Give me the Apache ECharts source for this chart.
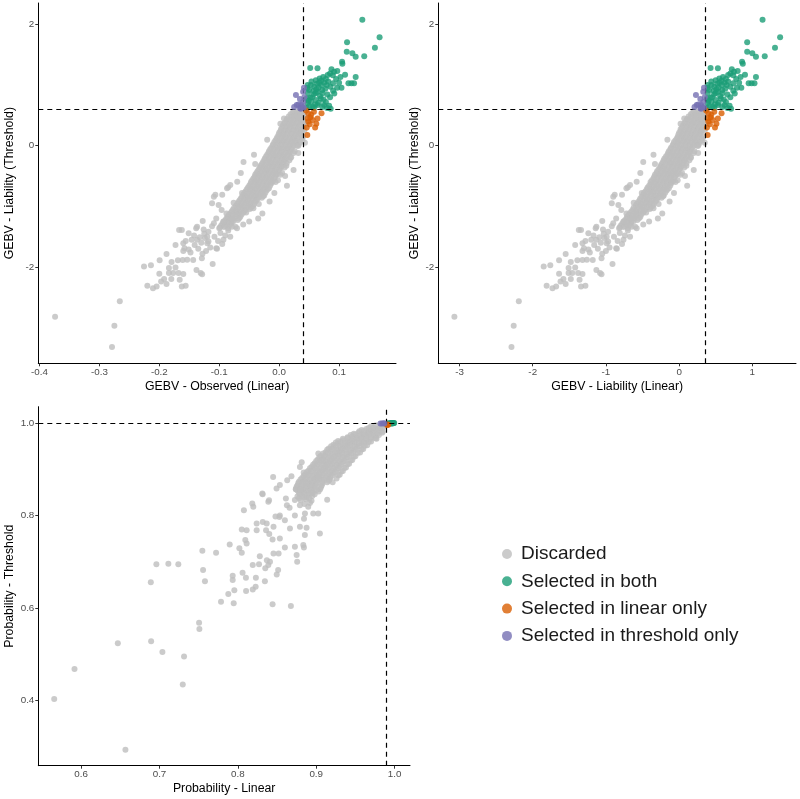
<!DOCTYPE html>
<html><head><meta charset="utf-8">
<script src="https://cdn.jsdelivr.net/npm/echarts@6/dist/echarts.min.js"></script>
<style>html,body{margin:0;padding:0;background:#fff}#c{width:800px;height:799px}</style>
</head><body><div id="c"></div>
<script>
// ---- Top panels: [GEBV observed (linear), GEBV liability (linear), GEBV liability (threshold)] ----
const grayCoreTop = [
[0.024,0.20,0.57],[0.030,0.25,0.555],[0.036,0.30,0.585],[0.041,0.34,0.565],
[0.019,0.16,0.52],[0.025,0.21,0.50],[0.031,0.25,0.515],[0.037,0.30,0.495],[0.042,0.35,0.52],
[0.013,0.11,0.44],[0.020,0.16,0.46],[0.027,0.22,0.445],[0.033,0.27,0.455],[0.039,0.32,0.435],
[0.010,0.08,0.38],[0.017,0.14,0.395],[0.023,0.19,0.375],[0.030,0.25,0.40],[0.036,0.30,0.385],[0.042,0.35,0.39],
[0.006,0.05,0.335],[0.013,0.11,0.32],[0.020,0.16,0.34],[0.027,0.22,0.325],[0.034,0.28,0.335],[0.041,0.34,0.32],
[0.003,0.02,0.27],[0.010,0.08,0.26],[0.017,0.14,0.28],[0.024,0.20,0.265],[0.031,0.25,0.275],[0.038,0.31,0.26],
[0.000,0.00,0.215],[0.007,0.06,0.20],[0.014,0.12,0.22],[0.021,0.17,0.205],[0.028,0.23,0.215],[0.035,0.29,0.20],
[-0.003,-0.02,0.145],[0.004,0.03,0.16],[0.011,0.09,0.14],[0.018,0.15,0.155],[0.025,0.21,0.14],[0.032,0.26,0.16],[0.040,0.33,0.15],
[-0.006,-0.05,0.09],[0.001,0.01,0.08],[0.008,0.07,0.10],[0.015,0.12,0.085],[0.022,0.18,0.095],[0.029,0.24,0.08],
[-0.010,-0.08,0.025],[-0.003,-0.02,0.04],[0.004,0.03,0.02],[0.011,0.09,0.035],[0.018,0.15,0.02],[0.025,0.21,0.04],[0.033,0.27,0.03],
[-0.013,-0.11,-0.035],[-0.006,-0.05,-0.02],[0.001,0.01,-0.04],[0.008,0.07,-0.025],[0.015,0.12,-0.04],[0.022,0.18,-0.025],
[-0.017,-0.14,-0.09],[-0.010,-0.08,-0.10],[-0.003,-0.02,-0.08],[0.004,0.03,-0.095],[0.011,0.09,-0.085],[0.018,0.15,-0.10],[0.026,0.21,-0.09],
[-0.020,-0.16,-0.15],[-0.013,-0.11,-0.14],[-0.006,-0.05,-0.16],[0.001,0.01,-0.145],[0.008,0.07,-0.155],[0.015,0.12,-0.14],
[-0.024,-0.20,-0.21],[-0.017,-0.14,-0.22],[-0.010,-0.08,-0.20],[-0.003,-0.02,-0.215],[0.004,0.03,-0.205],[0.011,0.09,-0.22],[0.019,0.16,-0.20],
[-0.027,-0.22,-0.27],[-0.020,-0.16,-0.26],[-0.013,-0.11,-0.28],[-0.006,-0.05,-0.265],[0.001,0.01,-0.275],[0.008,0.07,-0.26],
[-0.031,-0.25,-0.33],[-0.024,-0.20,-0.34],[-0.017,-0.14,-0.32],[-0.010,-0.08,-0.335],[-0.003,-0.02,-0.325],[0.004,0.03,-0.34],[0.012,0.10,-0.33],
[-0.034,-0.28,-0.39],[-0.027,-0.22,-0.38],[-0.020,-0.16,-0.40],[-0.013,-0.11,-0.385],[-0.006,-0.05,-0.395],[0.001,0.01,-0.38],
[-0.038,-0.31,-0.45],[-0.031,-0.25,-0.46],[-0.024,-0.20,-0.44],[-0.017,-0.14,-0.455],[-0.010,-0.08,-0.445],[-0.003,-0.02,-0.46],[0.005,0.04,-0.45],
[-0.041,-0.34,-0.51],[-0.034,-0.28,-0.50],[-0.027,-0.22,-0.52],[-0.020,-0.16,-0.505],[-0.013,-0.11,-0.515],[-0.006,-0.05,-0.50],
[-0.045,-0.37,-0.57],[-0.038,-0.31,-0.58],[-0.031,-0.25,-0.56],[-0.024,-0.20,-0.575],[-0.017,-0.14,-0.565],[-0.010,-0.08,-0.58],[-0.002,-0.02,-0.57],
[-0.048,-0.39,-0.63],[-0.041,-0.34,-0.62],[-0.034,-0.28,-0.64],[-0.027,-0.22,-0.625],[-0.020,-0.16,-0.635],[-0.013,-0.11,-0.62],
[-0.052,-0.43,-0.69],[-0.045,-0.37,-0.70],[-0.038,-0.31,-0.68],[-0.031,-0.25,-0.695],[-0.024,-0.20,-0.685],[-0.017,-0.14,-0.70],
[-0.056,-0.46,-0.75],[-0.049,-0.40,-0.74],[-0.042,-0.35,-0.76],[-0.035,-0.29,-0.745],[-0.028,-0.23,-0.755],[-0.021,-0.17,-0.74],
[-0.060,-0.49,-0.81],[-0.053,-0.44,-0.82],[-0.046,-0.38,-0.80],[-0.039,-0.32,-0.815],[-0.032,-0.26,-0.805],[-0.025,-0.21,-0.82],
[-0.064,-0.53,-0.87],[-0.057,-0.47,-0.86],[-0.050,-0.41,-0.88],[-0.043,-0.35,-0.865],[-0.036,-0.30,-0.875],[-0.029,-0.24,-0.86],
[-0.068,-0.56,-0.93],[-0.061,-0.50,-0.94],[-0.054,-0.44,-0.92],[-0.047,-0.39,-0.935],[-0.040,-0.33,-0.925],
[-0.072,-0.59,-0.99],[-0.065,-0.53,-0.98],[-0.058,-0.48,-1.00],[-0.051,-0.42,-0.985],[-0.044,-0.36,-0.995],
[-0.077,-0.63,-1.05],[-0.070,-0.58,-1.06],[-0.063,-0.52,-1.04],[-0.056,-0.46,-1.055],[-0.049,-0.40,-1.045],
[-0.081,-0.67,-1.11],[-0.074,-0.61,-1.10],[-0.067,-0.55,-1.12],[-0.060,-0.49,-1.105],
[-0.086,-0.71,-1.17],[-0.079,-0.65,-1.18],[-0.072,-0.59,-1.16],[-0.065,-0.53,-1.175],
[-0.090,-0.74,-1.23],[-0.083,-0.68,-1.22],[-0.076,-0.62,-1.24],[-0.069,-0.57,-1.225],
[-0.095,-0.78,-1.29],[-0.088,-0.72,-1.30],[-0.080,-0.66,-1.28],
[-0.099,-0.81,-1.35],[-0.092,-0.76,-1.34],[-0.085,-0.70,-1.36]
];
const grayCoreTop2 = [
[0.022,0.18,0.54],[0.028,0.23,0.535],[0.034,0.28,0.545],[0.040,0.33,0.54],
[0.016,0.13,0.48],[0.023,0.19,0.475],[0.029,0.24,0.485],[0.035,0.29,0.48],[0.041,0.34,0.475],
[0.012,0.10,0.42],[0.019,0.16,0.415],[0.025,0.21,0.425],[0.032,0.26,0.42],[0.038,0.31,0.41],
[0.008,0.07,0.36],[0.015,0.12,0.355],[0.022,0.18,0.365],[0.029,0.24,0.36],[0.035,0.29,0.355],[0.041,0.34,0.365],
[0.005,0.04,0.30],[0.012,0.10,0.295],[0.019,0.16,0.305],[0.026,0.21,0.30],[0.033,0.27,0.295],[0.040,0.33,0.305],
[0.002,0.02,0.24],[0.009,0.07,0.235],[0.016,0.13,0.245],[0.023,0.19,0.24],[0.030,0.25,0.235],[0.037,0.30,0.245],
[-0.001,-0.01,0.18],[0.006,0.05,0.175],[0.013,0.11,0.185],[0.020,0.16,0.18],[0.027,0.22,0.175],[0.034,0.28,0.185],
[-0.004,-0.03,0.12],[0.003,0.02,0.115],[0.010,0.08,0.125],[0.017,0.14,0.12],[0.024,0.20,0.115],[0.031,0.25,0.125],[0.038,0.31,0.12],
[-0.008,-0.07,0.06],[-0.001,-0.01,0.055],[0.006,0.05,0.065],[0.013,0.11,0.06],[0.020,0.16,0.055],[0.027,0.22,0.065],[0.034,0.28,0.06],
[-0.011,-0.09,0.00],[-0.004,-0.03,-0.005],[0.003,0.02,0.005],[0.010,0.08,0.00],[0.017,0.14,-0.005],[0.024,0.20,0.005],[0.030,0.25,0.00],
[-0.015,-0.12,-0.06],[-0.008,-0.07,-0.065],[-0.001,-0.01,-0.055],[0.006,0.05,-0.06],[0.013,0.11,-0.065],[0.020,0.16,-0.055],
[-0.018,-0.15,-0.12],[-0.011,-0.09,-0.125],[-0.004,-0.03,-0.115],[0.003,0.02,-0.12],[0.010,0.08,-0.125],[0.017,0.14,-0.115],[0.024,0.20,-0.12],
[-0.022,-0.18,-0.18],[-0.015,-0.12,-0.185],[-0.008,-0.07,-0.175],[-0.001,-0.01,-0.18],[0.006,0.05,-0.185],[0.013,0.11,-0.175],
[-0.025,-0.21,-0.24],[-0.018,-0.15,-0.245],[-0.011,-0.09,-0.235],[-0.004,-0.03,-0.24],[0.003,0.02,-0.245],[0.010,0.08,-0.235],[0.017,0.14,-0.24],
[-0.029,-0.24,-0.30],[-0.022,-0.18,-0.305],[-0.015,-0.12,-0.295],[-0.008,-0.07,-0.30],[-0.001,-0.01,-0.305],[0.006,0.05,-0.295],
[-0.032,-0.26,-0.36],[-0.025,-0.21,-0.365],[-0.018,-0.15,-0.355],[-0.011,-0.09,-0.36],[-0.004,-0.03,-0.365],[0.003,0.02,-0.355],[0.009,0.07,-0.36],
[-0.036,-0.30,-0.42],[-0.029,-0.24,-0.425],[-0.022,-0.18,-0.415],[-0.015,-0.12,-0.42],[-0.008,-0.07,-0.425],[-0.001,-0.01,-0.415],
[-0.040,-0.33,-0.48],[-0.033,-0.27,-0.485],[-0.026,-0.21,-0.475],[-0.019,-0.16,-0.48],[-0.012,-0.10,-0.485],[-0.005,-0.04,-0.475],[0.002,0.02,-0.48],
[-0.043,-0.35,-0.54],[-0.036,-0.30,-0.545],[-0.029,-0.24,-0.535],[-0.022,-0.18,-0.54],[-0.015,-0.12,-0.545],[-0.008,-0.07,-0.535],
[-0.047,-0.39,-0.60],[-0.040,-0.33,-0.605],[-0.033,-0.27,-0.595],[-0.026,-0.21,-0.60],[-0.019,-0.16,-0.605],[-0.012,-0.10,-0.595],[-0.006,-0.05,-0.60],
[-0.050,-0.41,-0.66],[-0.043,-0.35,-0.665],[-0.036,-0.30,-0.655],[-0.029,-0.24,-0.66],[-0.022,-0.18,-0.665],[-0.015,-0.12,-0.655],
[-0.054,-0.44,-0.72],[-0.047,-0.39,-0.725],[-0.040,-0.33,-0.715],[-0.033,-0.27,-0.72],[-0.026,-0.21,-0.725],[-0.019,-0.16,-0.715],
[-0.058,-0.48,-0.78],[-0.051,-0.42,-0.785],[-0.044,-0.36,-0.775],[-0.037,-0.30,-0.78],[-0.030,-0.25,-0.785],[-0.023,-0.19,-0.775],
[-0.062,-0.51,-0.84],[-0.055,-0.45,-0.845],[-0.048,-0.39,-0.835],[-0.041,-0.34,-0.84],[-0.034,-0.28,-0.845],[-0.027,-0.22,-0.835],
[-0.066,-0.54,-0.90],[-0.059,-0.48,-0.905],[-0.052,-0.43,-0.895],[-0.045,-0.37,-0.90],[-0.038,-0.31,-0.905],
[-0.070,-0.58,-0.96],[-0.063,-0.52,-0.965],[-0.056,-0.46,-0.955],[-0.049,-0.40,-0.96],[-0.042,-0.35,-0.965],
[-0.075,-0.62,-1.02],[-0.068,-0.56,-1.025],[-0.061,-0.50,-1.015],[-0.054,-0.44,-1.02],[-0.047,-0.39,-1.025],
[-0.079,-0.65,-1.08],[-0.072,-0.59,-1.085],[-0.065,-0.53,-1.075],[-0.058,-0.48,-1.08],
[-0.084,-0.69,-1.14],[-0.077,-0.63,-1.145],[-0.070,-0.58,-1.135],[-0.063,-0.52,-1.14],
[-0.088,-0.72,-1.20],[-0.081,-0.67,-1.205],[-0.074,-0.61,-1.195],[-0.067,-0.55,-1.20],
[-0.093,-0.76,-1.26],[-0.086,-0.71,-1.265],[-0.079,-0.65,-1.255],
[-0.097,-0.80,-1.32],[-0.090,-0.74,-1.325],[-0.083,-0.68,-1.315]
];
const grayTailTop = [
[-0.374,-3.07,-2.82],[-0.266,-2.19,-2.565],[-0.275,-2.26,-2.97],[-0.279,-2.29,-3.32],
[-0.2256,-1.85,-1.99],[-0.214,-1.76,-1.97],[-0.1995,-1.64,-1.89],[-0.188,-1.55,-1.785],
[-0.22,-1.81,-2.31],[-0.2106,-1.73,-2.35],[-0.2045,-1.68,-2.32],[-0.197,-1.62,-2.24],
[-0.192,-1.58,-2.20],[-0.188,-1.55,-2.28],[-0.180,-1.48,-2.20],[-0.200,-1.64,-2.11],
[-0.184,-1.51,-2.016],[-0.184,-1.51,-2.10],[-0.177,-1.46,-2.10],[-0.173,-1.42,-2.01],
[-0.168,-1.38,-2.10],[-0.166,-1.36,-2.21],[-0.1625,-1.34,-2.32],[-0.156,-1.28,-2.31],
[-0.160,-1.32,-2.115],[-0.1796,-1.48,-1.917],[-0.173,-1.42,-1.637],[-0.169,-1.39,-1.89],
[-0.161,-1.32,-1.884],[-0.1535,-1.26,-1.88],[-0.1435,-1.18,-1.884],[-0.138,-1.13,-2.05],
[-0.1286,-1.06,-2.12],[-0.129,-1.06,-1.856],[-0.160,-1.32,-1.736],[-0.158,-1.30,-1.69],
[-0.151,-1.24,-1.71],[-0.160,-1.32,-1.61],[-0.156,-1.28,-1.57],[-0.151,-1.24,-1.444],
[-0.167,-1.37,-1.39],[-0.1625,-1.34,-1.39],[-0.148,-1.22,-1.76],[-0.141,-1.16,-1.637],
[-0.137,-1.13,-1.55],[-0.1385,-1.14,-1.36],[-0.1276,-1.05,-1.24],[-0.1326,-1.09,-1.51],
[-0.124,-1.02,-1.52],[-0.120,-0.99,-1.61],[-0.122,-1.00,-1.736],[-0.118,-0.97,-1.58],
[-0.111,-0.91,-1.95],[-0.105,-0.86,-1.69],[-0.112,-0.92,-0.95],[-0.1065,-0.88,-0.81],
[-0.095,-0.78,-0.81],[-0.085,-0.70,-0.686],[-0.109,-0.90,-1.28],[-0.100,-0.82,-1.36],
[-0.098,-0.81,-1.44],[-0.0788,-0.65,-1.335],[-0.0704,-0.58,-1.36],[-0.0595,-0.49,-0.27],
[-0.087,-0.72,-0.70],[-0.101,-0.83,-0.977],[-0.043,-0.35,-1.03],[-0.073,-0.60,-1.335],
[-0.137,-1.13,-1.335],[-0.126,-1.04,-1.38],[-0.120,-0.99,-1.50],[0.0126,0.10,-0.29],
[-0.070,-0.58,-0.593],[-0.109,-0.90,-0.84],[-0.0816,-0.67,-0.648],[-0.0816,-0.67,-1.50],
[-0.093,-0.76,-1.55],[-0.1037,-0.85,-1.70],[-0.131,-1.08,-2.10],
[-0.118,-0.97,-1.42],[-0.108,-0.89,-1.50],[-0.102,-0.84,-1.57],[-0.090,-0.74,-1.48],
[-0.085,-0.70,-1.40],[-0.112,-0.92,-1.33],[-0.125,-1.03,-1.45],[-0.130,-1.07,-1.60],
[-0.095,-0.78,-1.62],[-0.142,-1.17,-1.48],[-0.146,-1.20,-1.55],[-0.115,-0.95,-1.68],
[-0.135,-1.11,-1.70],[-0.128,-1.05,-1.78],[-0.093,-0.76,-1.25],[-0.078,-0.64,-1.21],
[-0.055,-0.45,-1.10],[-0.088,-0.72,-1.12]
];
const grayEdgeTop = [
[0.010,0.08,-0.50],[0.020,0.16,-0.19],[0.032,0.26,0.00],[0.039,0.32,0.09],
[-0.020,-0.16,0.10],[-0.040,-0.33,-0.30],[-0.062,-0.51,-0.78],[-0.008,-0.07,-0.78],
[-0.016,-0.13,-0.92],[0.002,0.02,0.36],[0.013,0.11,-0.66],[0.024,0.20,-0.40],
[0.032,0.26,-0.12],[-0.042,-0.35,-0.15],[-0.064,-0.53,-0.45],[0.038,0.31,0.24],
[-0.034,-0.28,-0.96],[-0.076,-0.62,-0.94],[-0.028,-0.23,-1.12],[-0.096,-0.79,-1.06],
[-0.035,-0.29,-1.20],[-0.050,-0.41,-1.25],[-0.060,-0.49,-1.30],[-0.105,-0.86,-1.20],
[0.008,0.07,0.45],[0.043,0.35,0.05],[0.042,0.35,0.25]
];
const bothTop = [
[0.1388,1.14,2.077],[0.1676,1.38,1.787],[0.1598,1.31,1.615],[0.1133,0.93,1.704],[0.1128,0.93,1.55],
[0.1222,1.00,1.523],[0.1277,1.05,1.467],[0.142,1.17,1.473],[0.105,0.86,1.385],[0.1055,0.87,1.352],
[0.0518,0.43,1.281],[0.064,0.53,1.276],[0.0873,0.72,1.259],[0.0917,0.75,1.22],[0.085,0.70,1.19],
[0.081,0.67,1.166],[0.0735,0.60,1.132],[0.0675,0.55,1.11],[0.0895,0.74,1.16],[0.1023,0.84,1.132],
[0.1277,1.05,1.132],[0.1156,0.95,1.028],[0.1206,0.99,1.028],[0.125,1.03,1.028],[0.104,0.85,0.956],
[0.0967,0.79,0.956],[0.090,0.74,0.907],[0.0856,0.70,0.973],[0.0794,0.65,1.0],[0.075,0.62,1.04],
[0.0667,0.55,1.04],[0.0612,0.50,1.08],[0.0585,0.48,0.973],[0.053,0.44,1.0],[0.050,0.41,0.918],
[0.0475,0.39,1.0],[0.048,0.39,0.863],[0.064,0.53,0.89],[0.0723,0.59,0.863],[0.0806,0.66,0.846],
[0.0695,0.57,0.78],[0.0612,0.50,0.753],[0.053,0.44,0.726],[0.0475,0.39,0.70],[0.056,0.46,0.643],
[0.064,0.53,0.67],[0.075,0.62,0.67],[0.0834,0.69,0.66],[0.086,0.71,0.61],
[0.046,0.38,0.78],[0.046,0.38,0.62],[0.050,0.41,0.65],[0.055,0.45,0.80],[0.058,0.48,0.85],
[0.062,0.51,0.93],[0.066,0.54,0.96],[0.070,0.58,1.00],[0.072,0.59,0.92],[0.068,0.56,0.82],
[0.074,0.61,0.76],[0.078,0.64,0.72],[0.060,0.49,0.68],[0.052,0.43,0.79],[0.057,0.47,0.90],
[0.063,0.52,1.02],[0.070,0.58,1.07],[0.078,0.64,1.10],[0.082,0.67,1.06],[0.077,0.63,0.94],
[0.049,0.40,0.74],[0.066,0.54,0.71],[0.058,0.48,0.62],[0.072,0.59,0.64],[0.080,0.66,0.62],
[0.047,0.39,0.95],[0.054,0.44,1.06],[0.061,0.50,0.87],[0.085,0.70,0.80],[0.092,0.76,0.86],
[0.095,0.78,1.10],[0.100,0.82,1.04],[0.090,0.74,1.03],[0.110,0.90,1.17],[0.097,0.80,1.23]
];
const linOnlyTop = [
[0.0485,0.40,0.534],[0.0535,0.44,0.51],[0.0707,0.58,0.534],[0.056,0.46,0.425],[0.0485,0.40,0.40],
[0.051,0.42,0.352],[0.062,0.51,0.36],[0.047,0.39,0.176],[0.0475,0.39,0.45],[0.064,0.53,0.45],
[0.058,0.48,0.56],[0.045,0.37,0.58],[0.052,0.43,0.47],[0.060,0.49,0.30],[0.046,0.38,0.30]
];
const thrOnlyTop = [
[0.028,0.23,0.836],[0.0347,0.29,0.77],[0.040,0.33,0.89],[0.032,0.26,0.68],[0.037,0.30,0.67],
[0.040,0.33,0.72],[0.039,0.32,0.64],[0.0347,0.29,0.62],[0.0292,0.24,0.67],[0.0414,0.34,0.956],
[0.042,0.35,0.80],[0.036,0.30,0.61],[0.041,0.34,0.63],[0.025,0.21,0.64]
];
const cutObs = 0.0435, cutLiab = 0.358, cutThr = 0.60;

// ---- Bottom panel: [Probability - Linear, Probability - Threshold] ----
const grayScatterProb = [
[0.5656,0.403],[0.5915,0.468],[0.6468,0.524],[0.6565,0.2935],[0.6893,0.528],[0.6889,0.6555],
[0.696,0.6944],[0.7113,0.6957],[0.724,0.6944],[0.7037,0.505],[0.7313,0.495],[0.7297,0.4345],
[0.7505,0.5683],[0.7509,0.5547],[0.7547,0.7237],[0.7556,0.682],[0.758,0.6577],[0.7722,0.7194],
[0.7785,0.6137],[0.7878,0.6303],[0.7896,0.7375],[0.7934,0.6698],[0.7934,0.6605],[0.7955,0.6382],
[0.7947,0.6102],[0.8019,0.729],
[0.805,0.7194],[0.806,0.676],[0.8103,0.6655],[0.819,0.693],[0.827,0.6944],[0.823,0.6655],
[0.8227,0.646],[0.8389,0.693],[0.835,0.686],[0.841,0.70],[0.837,0.703],[0.8455,0.718],
[0.852,0.718],[0.8514,0.682],[0.8496,0.6725],[0.8345,0.658],[0.828,0.712],[0.819,0.640],
[0.8112,0.7397],[0.805,0.770],[0.8112,0.768],[0.824,0.783],[0.8318,0.786],[0.836,0.768],
[0.8401,0.76],[0.824,0.768],[0.8443,0.748],[0.8536,0.7505],[0.86,0.731],[0.8728,0.7324],
[0.875,0.7145],[0.8757,0.700],[0.8835,0.736],[0.8843,0.731],[0.9047,0.761],[0.8728,0.80],
[0.8665,0.772],[0.86,0.79],[0.8536,0.80],[0.848,0.798],[0.8455,0.7755],[0.8197,0.8187],
[0.8077,0.8116],[0.8316,0.846],[0.8389,0.8295],[0.845,0.8834],[0.8494,0.8584],[0.8536,0.866],
[0.8613,0.8368],[0.8626,0.822],[0.866,0.817],[0.8728,0.8335],[0.8792,0.822],[0.8856,0.8044],
[0.8898,0.819],[0.8962,0.8044],[0.9026,0.8044],[0.8792,0.7755],[0.8877,0.7734],
[0.8095,0.7468],[0.8184,0.826],[0.8443,0.608],[0.8677,0.6045],[0.8105,0.637],[0.8855,0.7576],
[0.8844,0.793],[0.863,0.876],[0.8684,0.885],[0.874,0.8576],[0.88,0.856],[0.8792,0.905],
[0.8815,0.915],[0.884,0.893],[0.887,0.869],[0.894,0.849],[0.9027,0.883],[0.9027,0.934],
[0.908,0.919],[0.914,0.872],[0.921,0.872],[0.914,0.834],[0.977,0.966],[0.8368,0.783],
[0.8398,0.833],[0.8312,0.8476],[0.853,0.797]
];
const grayCoreProb = [
[0.970,0.993],[0.976,0.995],[0.982,0.992],[0.987,0.994],
[0.958,0.985],[0.964,0.987],[0.970,0.984],[0.976,0.986],[0.982,0.988],
[0.948,0.977],[0.954,0.979],[0.960,0.976],[0.966,0.978],[0.972,0.980],[0.978,0.977],[0.984,0.979],
[0.940,0.969],[0.946,0.971],[0.952,0.968],[0.958,0.970],[0.964,0.972],[0.970,0.969],[0.976,0.971],
[0.928,0.961],[0.934,0.963],[0.940,0.960],[0.946,0.962],[0.952,0.964],[0.958,0.961],[0.964,0.963],[0.970,0.960],
[0.922,0.953],[0.928,0.955],[0.934,0.952],[0.940,0.954],[0.946,0.956],[0.952,0.953],[0.958,0.955],[0.965,0.952],
[0.916,0.945],[0.922,0.947],[0.928,0.944],[0.934,0.946],[0.940,0.948],[0.946,0.945],[0.952,0.947],[0.960,0.944],
[0.912,0.937],[0.918,0.939],[0.924,0.936],[0.930,0.938],[0.936,0.940],[0.942,0.937],[0.948,0.939],[0.956,0.936],
[0.906,0.929],[0.912,0.931],[0.918,0.928],[0.924,0.930],[0.930,0.932],[0.936,0.929],[0.942,0.931],[0.950,0.928],
[0.902,0.921],[0.908,0.923],[0.914,0.920],[0.920,0.922],[0.926,0.924],[0.932,0.921],[0.938,0.923],[0.946,0.920],
[0.898,0.913],[0.904,0.915],[0.910,0.912],[0.916,0.914],[0.922,0.916],[0.928,0.913],[0.934,0.915],[0.942,0.912],
[0.894,0.905],[0.900,0.907],[0.906,0.904],[0.912,0.906],[0.918,0.908],[0.924,0.905],[0.930,0.907],[0.938,0.904],
[0.890,0.897],[0.896,0.899],[0.902,0.896],[0.908,0.898],[0.914,0.900],[0.920,0.897],[0.926,0.899],[0.934,0.896],
[0.886,0.889],[0.892,0.891],[0.898,0.888],[0.904,0.890],[0.910,0.892],[0.916,0.889],[0.922,0.891],[0.930,0.888],
[0.882,0.881],[0.888,0.883],[0.894,0.880],[0.900,0.882],[0.906,0.884],[0.912,0.881],[0.918,0.883],[0.926,0.880],
[0.878,0.873],[0.884,0.875],[0.890,0.872],[0.896,0.874],[0.902,0.876],[0.908,0.873],[0.916,0.875],
[0.876,0.865],[0.882,0.867],[0.888,0.864],[0.894,0.866],[0.900,0.868],[0.907,0.865],
[0.874,0.857],[0.880,0.859],[0.886,0.856],[0.892,0.858],[0.898,0.860],[0.905,0.857],
[0.878,0.849],[0.884,0.851],[0.890,0.848],[0.896,0.850],[0.903,0.852],
[0.876,0.841],[0.882,0.843],[0.888,0.840],[0.895,0.842],
[0.880,0.833],[0.887,0.835],[0.894,0.832],
[0.885,0.825],[0.892,0.827]
];
const grayCoreProb2 = [
[0.967,0.989],[0.973,0.990],[0.979,0.988],[0.985,0.990],
[0.955,0.982],[0.961,0.983],[0.967,0.981],[0.973,0.982],[0.979,0.983],[0.985,0.981],
[0.944,0.974],[0.950,0.975],[0.956,0.973],[0.962,0.974],[0.968,0.975],[0.974,0.973],[0.980,0.974],
[0.934,0.966],[0.940,0.967],[0.946,0.965],[0.952,0.966],[0.958,0.967],[0.964,0.965],[0.970,0.966],[0.976,0.967],
[0.925,0.958],[0.931,0.959],[0.937,0.957],[0.943,0.958],[0.949,0.959],[0.955,0.957],[0.961,0.958],[0.967,0.959],
[0.919,0.950],[0.925,0.951],[0.931,0.949],[0.937,0.950],[0.943,0.951],[0.949,0.949],[0.955,0.950],[0.962,0.951],
[0.914,0.942],[0.920,0.943],[0.926,0.941],[0.932,0.942],[0.938,0.943],[0.944,0.941],[0.950,0.942],[0.958,0.943],
[0.909,0.934],[0.915,0.935],[0.921,0.933],[0.927,0.934],[0.933,0.935],[0.939,0.933],[0.945,0.934],[0.953,0.935],
[0.904,0.926],[0.910,0.927],[0.916,0.925],[0.922,0.926],[0.928,0.927],[0.934,0.925],[0.940,0.926],[0.948,0.927],
[0.900,0.918],[0.906,0.919],[0.912,0.917],[0.918,0.918],[0.924,0.919],[0.930,0.917],[0.936,0.918],[0.944,0.919],
[0.896,0.910],[0.902,0.911],[0.908,0.909],[0.914,0.910],[0.920,0.911],[0.926,0.909],[0.932,0.910],[0.940,0.911],
[0.892,0.902],[0.898,0.903],[0.904,0.901],[0.910,0.902],[0.916,0.903],[0.922,0.901],[0.928,0.902],[0.936,0.903],
[0.888,0.894],[0.894,0.895],[0.900,0.893],[0.906,0.894],[0.912,0.895],[0.918,0.893],[0.924,0.894],[0.932,0.895],
[0.884,0.886],[0.890,0.887],[0.896,0.885],[0.902,0.886],[0.908,0.887],[0.914,0.885],[0.920,0.886],[0.928,0.887],
[0.880,0.878],[0.886,0.879],[0.892,0.877],[0.898,0.878],[0.904,0.879],[0.910,0.877],[0.917,0.878],
[0.877,0.870],[0.883,0.871],[0.889,0.869],[0.895,0.870],[0.901,0.871],[0.908,0.869],
[0.875,0.862],[0.881,0.863],[0.887,0.861],[0.893,0.862],[0.899,0.863],[0.906,0.861],
[0.876,0.854],[0.882,0.855],[0.888,0.853],[0.894,0.854],[0.900,0.855],
[0.879,0.846],[0.885,0.847],[0.891,0.845],[0.898,0.846],
[0.878,0.838],[0.884,0.839],[0.891,0.837]
];
const bothProb = [
[0.9915,0.9992],[0.993,0.9995],[0.9945,0.9997],[0.996,0.9998],[0.9975,0.9999],[0.999,1.0],
[0.9995,0.9999],[0.998,0.9996],[0.9965,0.9993],[0.995,0.999],[0.997,0.9989]
];
const linOnlyProb = [[0.9905,0.9955],[0.992,0.9965],[0.991,0.997]];
const thrOnlyProb = [[0.984,0.999],[0.986,0.9993],[0.982,0.9988],[0.987,0.9989]];
const cutProbLin = 0.9885, cutProbThr = 0.9985;

const names = ['Discarded','Selected in both','Selected in linear only','Selected in threshold only'];
const colors = ['#BEBEBE','#1B9E77','#D95F02','#7570B3'];

const ticks = {
  obs: [-0.4,-0.3,-0.2,-0.1,0,0.1],
  liab: [-3,-2,-1,0,1],
  gebvY: [-2,0,2],
  probX: [0.6,0.7,0.8,0.9,1.0],
  probY: [0.4,0.6,0.8,1.0]
};

const FONT = 'Liberation Sans, Arial, Helvetica, sans-serif';
function axis(grid, min, max, tv, fmt, name, gap) {
  return {
    type:'value', gridIndex:grid, min, max, name, nameLocation:'middle', nameGap:gap,
    nameTextStyle:{color:'#000', fontSize:12.3, fontFamily:FONT},
    axisLine:{onZero:false, lineStyle:{color:'#000', width:1}},
    axisTick:{customValues:tv, length:3, lineStyle:{color:'#333', width:1}},
    axisLabel:{customValues:tv, formatter:fmt, color:'#4D4D4D', fontSize:9.8, margin:4, fontFamily:FONT},
    splitLine:{show:false}
  };
}
const f1 = v => v.toFixed(1), f0 = v => String(v);

const dash = {color:'#000', type:[5,4], width:1.2};
function series(idx, groups, cx, cy) {
  return groups.map((d, i) => {
    const s = {
      name:names[i], type:'scatter', xAxisIndex:idx, yAxisIndex:idx, data:d,
      symbol:'circle', symbolSize:6, itemStyle:{color:colors[i], opacity:0.8},
      silent:true, animation:false, z:2+i, large:false
    };
    if (i === 3) s.markLine = {silent:true, symbol:['none','none'], label:{show:false},
      lineStyle:dash, animation:false, data:[{xAxis:cx},{yAxis:cy}]};
    return s;
  });
}
const pick = (arr, a, b) => arr.map(p => [p[a], p[b]]);
const grayTop = grayCoreTop.concat(grayCoreTop2, grayTailTop, grayEdgeTop);
const grayProb = grayCoreProb.concat(grayCoreProb2, grayScatterProb);

const option = {
  backgroundColor:'#fff',
  animation:false,
  textStyle:{fontFamily:FONT},
  grid:[
    {left:38.3, top:3, width:357.7, height:360.3},
    {left:438.3, top:3, width:357.7, height:360.3},
    {left:38.3, top:406.7, width:371.7, height:359}
  ],
  xAxis:[
    axis(0, -0.402, 0.195, ticks.obs, f1, 'GEBV - Observed (Linear)', 17),
    axis(1, -3.29, 1.597, ticks.liab, f0, 'GEBV - Liability (Linear)', 17),
    axis(2, 0.5453, 1.0197, ticks.probX, f1, 'Probability - Linear', 17)
  ],
  yAxis:[
    axis(0, -3.588, 2.353, ticks.gebvY, f0, 'GEBV - Liability (Threshold)', 23),
    axis(1, -3.588, 2.353, ticks.gebvY, f0, 'GEBV - Liability (Threshold)', 18),
    axis(2, 0.259, 1.0353, ticks.probY, f1, 'Probability - Threshold', 23)
  ],
  legend:{
    orient:'vertical', left:497, top:539.5, icon:'circle', itemWidth:18, itemHeight:10, itemGap:8.3,
    data:names, selectedMode:false,
    textStyle:{fontSize:19, lineHeight:19, color:'#1A1A1A', fontFamily:FONT}
  },
  series:[].concat(
    series(0, [pick(grayTop,0,2), pick(bothTop,0,2), pick(linOnlyTop,0,2), pick(thrOnlyTop,0,2)], cutObs, cutThr),
    series(1, [pick(grayTop,1,2), pick(bothTop,1,2), pick(linOnlyTop,1,2), pick(thrOnlyTop,1,2)], cutLiab, cutThr),
    series(2, [grayProb, bothProb, linOnlyProb, thrOnlyProb], cutProbLin, cutProbThr)
  )
};
const chart = echarts.init(document.getElementById('c'), null, {renderer:'canvas'});
chart.setOption(option);
</script></body></html>
